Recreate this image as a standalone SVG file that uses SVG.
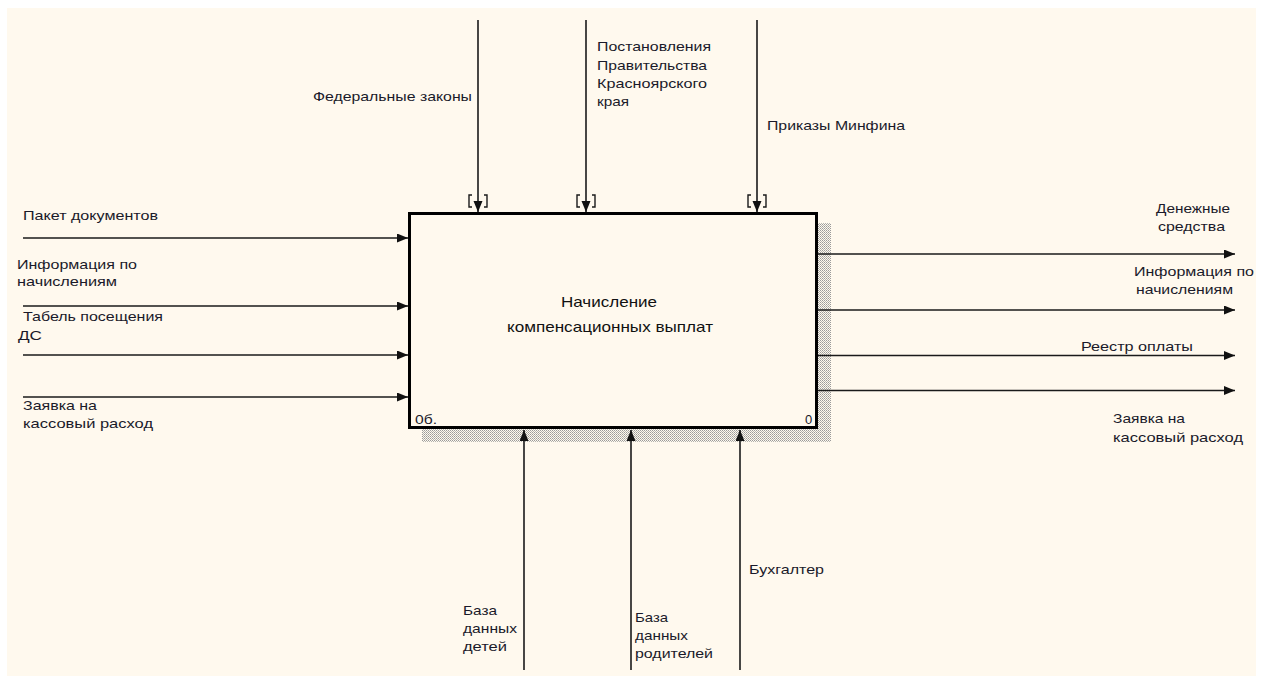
<svg xmlns="http://www.w3.org/2000/svg" width="1269" height="677" viewBox="0 0 1269 677">
<style>
.lbl{font-family:"Liberation Sans",Arial,sans-serif;font-size:13px;fill:#1a1a2a}
.ttl{font-family:"Liberation Sans",Arial,sans-serif;font-size:15px;fill:#111}
.con{stroke:#1a1a1a;stroke-width:1.6;fill:none}
.brk{stroke:#1a1a1a;stroke-width:1.4;fill:none}
</style>
<defs>
<pattern id="hatch" width="2" height="2" patternUnits="userSpaceOnUse">
<rect width="2" height="2" fill="#fff9ee"/>
<rect x="0" y="0" width="1" height="1" fill="#9a9a9a"/>
<rect x="1" y="1" width="1" height="1" fill="#b5b5b0"/>
</pattern>
<marker id="ah" markerUnits="userSpaceOnUse" markerWidth="12" markerHeight="10" refX="11" refY="4.5" orient="auto">
<path d="M0,0 L11,4.5 L0,9 z" fill="#111"/>
</marker>
</defs>
<rect x="0" y="0" width="1269" height="677" fill="#ffffff"/>
<rect x="7" y="8" width="1249" height="668" fill="#fff9ee"/>

<g id="node-A0">
<rect x="818" y="223" width="13" height="219" fill="url(#hatch)"/>
<rect x="422" y="429" width="409" height="13" fill="url(#hatch)"/>
<rect x="409.5" y="213.5" width="407" height="214" fill="#fff9ee" stroke="#000" stroke-width="3"/>
<text class="ttl" x="561" y="307" textLength="96" lengthAdjust="spacingAndGlyphs">Начисление</text>
<text class="ttl" x="507" y="332" textLength="206" lengthAdjust="spacingAndGlyphs">компенсационных выплат</text>
<text class="lbl" x="415" y="423.5" textLength="22" lengthAdjust="spacingAndGlyphs">0б.</text>
<text class="lbl" x="805" y="423.5">0</text>
</g>

<g id="connectors">
<path class="con" d="M478,20 V212" marker-end="url(#ah)"/>
<path class="con" d="M586,20 V212" marker-end="url(#ah)"/>
<path class="con" d="M757,20 V212" marker-end="url(#ah)"/>
<path class="brk" d="M472,195 H469 V207 H472 M484,195 H487 V207 H484"/>
<path class="brk" d="M580,195 H577 V207 H580 M592,195 H595 V207 H592"/>
<path class="brk" d="M751,195 H748 V207 H751 M763,195 H766 V207 H763"/>
<path class="con" d="M23,238 H408" marker-end="url(#ah)"/>
<path class="con" d="M23,306 H408" marker-end="url(#ah)"/>
<path class="con" d="M23,355 H408" marker-end="url(#ah)"/>
<path class="con" d="M23,397 H408" marker-end="url(#ah)"/>
<path class="con" d="M818,254 H1235" marker-end="url(#ah)"/>
<path class="con" d="M818,310 H1235" marker-end="url(#ah)"/>
<path class="con" d="M818,355.5 H1235" marker-end="url(#ah)"/>
<path class="con" d="M818,390.5 H1235" marker-end="url(#ah)"/>
<path class="con" d="M524,670 V430" marker-end="url(#ah)"/>
<path class="con" d="M631,670 V430" marker-end="url(#ah)"/>
<path class="con" d="M740,670 V430" marker-end="url(#ah)"/>
</g>

<g id="label-federal"><text class="lbl" x="313" y="100.5" textLength="159" lengthAdjust="spacingAndGlyphs">Федеральные законы</text></g>
<g id="label-postanovleniya">
<text class="lbl" x="597" y="51" textLength="114" lengthAdjust="spacingAndGlyphs">Постановления</text>
<text class="lbl" x="597" y="70" textLength="110" lengthAdjust="spacingAndGlyphs">Правительства</text>
<text class="lbl" x="597" y="88" textLength="110" lengthAdjust="spacingAndGlyphs">Красноярского</text>
<text class="lbl" x="597" y="106" textLength="32" lengthAdjust="spacingAndGlyphs">края</text>
</g>
<g id="label-prikazy"><text class="lbl" x="767" y="129.5" textLength="138" lengthAdjust="spacingAndGlyphs">Приказы Минфина</text></g>

<g id="label-paket"><text class="lbl" x="23" y="219.5" textLength="135" lengthAdjust="spacingAndGlyphs">Пакет документов</text></g>
<g id="label-info-in">
<text class="lbl" x="17" y="268.5" textLength="120" lengthAdjust="spacingAndGlyphs">Информация по</text>
<text class="lbl" x="17" y="286" textLength="100" lengthAdjust="spacingAndGlyphs">начислениям</text>
</g>
<g id="label-tabel">
<text class="lbl" x="23" y="321" textLength="140" lengthAdjust="spacingAndGlyphs">Табель посещения</text>
<text class="lbl" x="18" y="340" textLength="24" lengthAdjust="spacingAndGlyphs">ДС</text>
</g>
<g id="label-zayavka-in">
<text class="lbl" x="23" y="410" textLength="74" lengthAdjust="spacingAndGlyphs">Заявка на</text>
<text class="lbl" x="23" y="428" textLength="130" lengthAdjust="spacingAndGlyphs">кассовый расход</text>
</g>

<g id="label-dengi">
<text class="lbl" x="1156" y="212.5" textLength="74" lengthAdjust="spacingAndGlyphs">Денежные</text>
<text class="lbl" x="1158" y="231" textLength="67" lengthAdjust="spacingAndGlyphs">средства</text>
</g>
<g id="label-info-out">
<text class="lbl" x="1134" y="276" textLength="120" lengthAdjust="spacingAndGlyphs">Информация по</text>
<text class="lbl" x="1136" y="294" textLength="97" lengthAdjust="spacingAndGlyphs">начислениям</text>
</g>
<g id="label-reestr"><text class="lbl" x="1081" y="351" textLength="112" lengthAdjust="spacingAndGlyphs">Реестр оплаты</text></g>
<g id="label-zayavka-out">
<text class="lbl" x="1113" y="422.5" textLength="72" lengthAdjust="spacingAndGlyphs">Заявка на</text>
<text class="lbl" x="1113" y="442" textLength="130" lengthAdjust="spacingAndGlyphs">кассовый расход</text>
</g>

<g id="label-bd-deti">
<text class="lbl" x="463" y="614.5" textLength="34" lengthAdjust="spacingAndGlyphs">База</text>
<text class="lbl" x="463" y="632.5" textLength="54" lengthAdjust="spacingAndGlyphs">данных</text>
<text class="lbl" x="463" y="650.5" textLength="44" lengthAdjust="spacingAndGlyphs">детей</text>
</g>
<g id="label-bd-roditeli">
<text class="lbl" x="635" y="621.5" textLength="33" lengthAdjust="spacingAndGlyphs">База</text>
<text class="lbl" x="635" y="639.5" textLength="53" lengthAdjust="spacingAndGlyphs">данных</text>
<text class="lbl" x="635" y="658" textLength="78" lengthAdjust="spacingAndGlyphs">родителей</text>
</g>
<g id="label-buh"><text class="lbl" x="749" y="573.5" textLength="75" lengthAdjust="spacingAndGlyphs">Бухгалтер</text></g>
</svg>
